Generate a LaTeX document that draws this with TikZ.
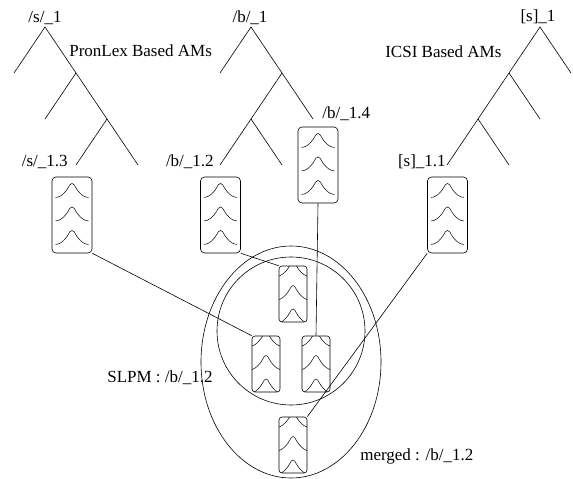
\documentclass[tikz,border=0pt]{standalone}
\usepackage{fontspec}
\setmainfont{Liberation Serif}
\usepackage{tikz}

% three bell curves inside a state box, #1 = size factor
\newcommand\amBells[1]{%
  \foreach \k in {-25.5,-2,21.5}
  {\draw[line width=0.5pt,line join=round,shift={(path picture bounding box.center)},scale=#1]
     (-16.5,\k+8) .. controls (-8,\k+7.5) and (-3,\k-3.5) .. (0,\k-8)
     .. controls (3,\k-3.5) and (8,\k+7.5) .. (16.5,\k+8);}
}

\tikzset{
  lbl/.style={font=\fontsize{17}{20}\selectfont,inner sep=0pt},
  bigam/.style={draw,rounded corners=4pt,minimum width=40pt,minimum height=76pt,inner sep=0pt,
    path picture={\amBells{1}}},
  smallam/.style={draw,rounded corners=3pt,minimum width=28pt,minimum height=56pt,inner sep=0pt,
    path picture={\amBells{0.72}}}
}

\begin{document}
\begin{tikzpicture}[x=1pt,y=-1pt,line width=0.6pt]
  \useasboundingbox (0,0) rectangle (573,479);
  % PronLex tree
  \coordinate (p0) at (45,27);  \coordinate (p1) at (76,73);  \coordinate (p2) at (107,119);
  \draw (14,73) -- (p0) -- (p1) -- (p2) -- (138,165);
  \draw (p1) -- (45,119);
  \draw (p2) -- (76,165);
  \node[lbl,anchor=base] at (45,22) {/s/\_1};
  \node[lbl,anchor=base west] at (69,56) {PronLex Based AMs};
  \node[lbl,anchor=base east] at (68,166) {/s/\_1.3};
  % /b/ tree
  \coordinate (b0) at (251,27); \coordinate (b1) at (282,73); \coordinate (b2) at (251,119);
  \draw (220,73) -- (b0) -- (b1) -- (313,119);
  \draw (b1) -- (b2) -- (220,165);
  \draw (b2) -- (282,165);
  \node[lbl,anchor=base] at (250,22) {/b/\_1};
  \node[lbl,anchor=base west] at (322,118) {/b/\_1.4};
  \node[lbl,anchor=base east] at (214,166) {/b/\_1.2};
  % ICSI tree
  \coordinate (i0) at (540,27); \coordinate (i1) at (509,73); \coordinate (i2) at (478,119);
  \draw (571,73) -- (i0) -- (i1) -- (i2) -- (447,165);
  \draw (i1) -- (540,119);
  \draw (i2) -- (509,165);
  \node[lbl,anchor=base] at (538,21) {[s]\_1};
  \node[lbl,anchor=base west] at (385,57) {ICSI Based AMs};
  \node[lbl,anchor=base east] at (446,166) {[s]\_1.1};
  % state models
  \node[bigam] (s13) at (72,215) {};
  \node[bigam] (b12) at (220.5,215) {};
  \node[bigam] (b14) at (318,165) {};
  \node[bigam] (s11) at (447.5,215) {};
  \node[smallam] (slA) at (293,294) {};
  \node[smallam] (slB) at (266,364) {};
  \node[smallam] (slC) at (316,364) {};
  \node[smallam] (mrg) at (293,445) {};
  % SLPM circle and merged ellipse
  \draw (291,331) circle (74);
  \draw (291,362) ellipse (90 and 116);
  \node[lbl,anchor=base west] at (107,382) {SLPM : /b/\_1.2};
  \node[lbl,anchor=base west] at (360,460) {merged : /b/\_1.2};
  % links
  \draw (s13.south east) -- (slB.north west);
  \draw (b12.south east) -- (slA.north west);
  \draw (b14.south) -- (slC.north);
  \draw (s11.south west) -- (mrg.north east);
\end{tikzpicture}
\end{document}
